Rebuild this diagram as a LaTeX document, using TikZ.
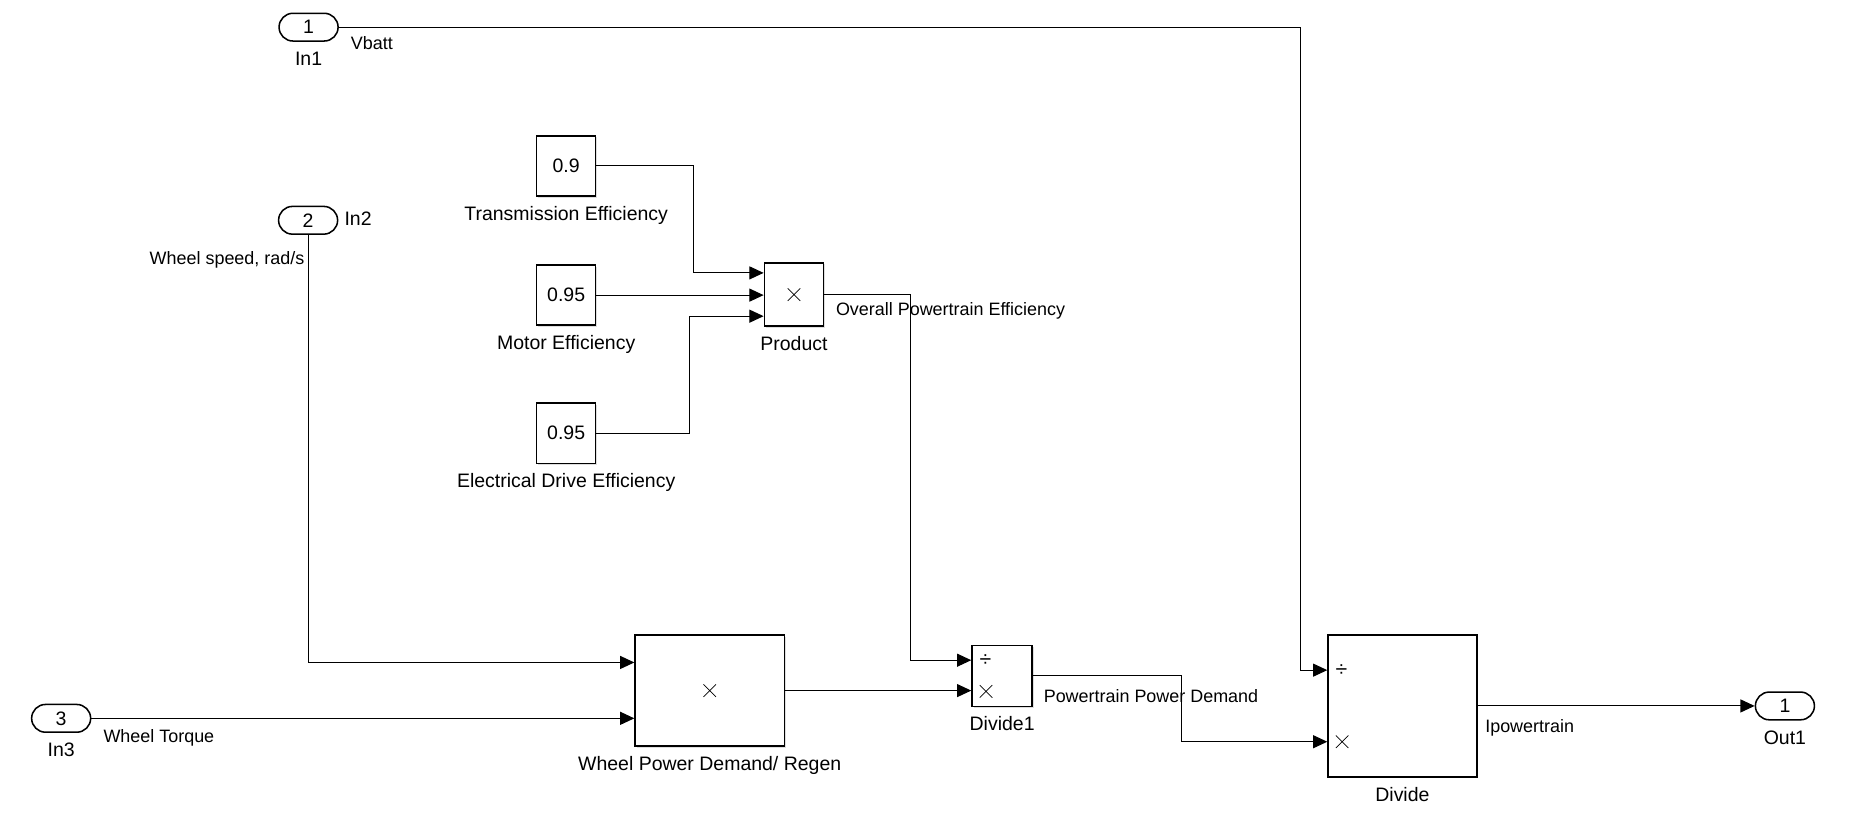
\documentclass[tikz,border=0pt]{standalone}
\usepackage{fontspec}
\setmainfont{Liberation Sans}
\usetikzlibrary{calc,positioning,shapes.misc,arrows.meta,shadows}
\newcommand\slfont{\fontsize{16.5}{19.8}\selectfont}
\newcommand\sigfont{\fontsize{15.2}{18}\selectfont}

\begin{document}
\begin{tikzpicture}
          [x=1pt, y=-1pt,
           block/.style={draw=black,fill=white,line width=1.3pt,inner sep=0pt,
             drop shadow={shadow xshift=1.4pt,shadow yshift=-1.4pt,fill=black!25}},
           const/.style={block,minimum width=50pt,minimum height=51pt},
           port/.style={rounded rectangle,draw=black,fill=white,line width=1.3pt,
             minimum width=50pt,minimum height=23.5pt,inner sep=0pt},
           caption/.style={inner sep=0pt,text height=12pt,text depth=3.5pt},
           signame/.style={caption,anchor=west,font=\sigfont},
           times/.style={cross out,draw=black,line width=0.6pt,minimum size=10pt,inner sep=0pt},
           over/.style={font=\fontsize{18}{20}\selectfont,inner sep=0pt},
           sig/.style={line width=0.9pt},
           node distance=8pt,
           every node/.style={font=\slfont},
           >={Triangle[length=12pt,width=11pt]}
          ]
          \fill[white] (0,0) rectangle (1568,693);
          \useasboundingbox (0,0) rectangle (1568,693);
          % inports
          \node[port] (in1) at (261.4,23) {1};
          \node[caption,below=of in1] (in1lab) {In1};
          \node[port] (in2) at (261,186.6) {2};
          \node[caption,right=5pt of in2] (in2lab) {In2};
          \node[port] (in3) at (51.8,608.5) {3};
          \node[caption,below=of in3] (in3lab) {In3};
          % efficiencies
          \node[const] (trans) at (479.6,140.5) {0.9};
          \node[caption,below=of trans] (translab) {Transmission Efficiency};
          \node[const] (motor) at (479.6,250) {0.95};
          \node[caption,below=of motor] (motorlab) {Motor Efficiency};
          \node[const] (elec) at (479.6,367) {0.95};
          \node[caption,below=of elec] (eleclab) {Electrical Drive Efficiency};
          \node[block,minimum width=50.2pt,minimum height=53.7pt] (prod) at (672.6,249.5) {};
          \node[times] (prodop) at (prod) {};
          \node[caption,below=of prod] (prodlab) {Product};
          % power demand
          \node[block,minimum width=126.4pt,minimum height=94pt] (wpd) at (601.2,585) {};
          \node[times] (wpdop) at (wpd) {};
          \node[caption,below=of wpd] (wpdlab) {Wheel Power Demand/ Regen};
          \node[block,minimum width=51pt,minimum height=51.7pt] (div1) at (848.9,572.5) {};
          \node[caption,below=of div1] (div1lab) {Divide1};
          \node[over] (div1div) at ($(div1.north west)!.25!(div1.south west)+(12,0)$) {÷};
          \node[times] (div1mul) at ($(div1.north west)!.75!(div1.south west)+(12.5,0)$) {};
          \node[block,minimum width=126pt,minimum height=120pt] (div) at (1188,598) {};
          \node[caption,below=of div] (divlab) {Divide};
          \node[over] (divdiv) at ($(div.north west)!.25!(div.south west)+(12,0)$) {÷};
          \node[times] (divmul) at ($(div.north west)!.75!(div.south west)+(12.5,0)$) {};
          \node[port] (out1) at (1512,598) {1};
          \node[caption,below=of out1] (out1lab) {Out1};
          % signal names
          \node[signame] (vbatt) at (297,37.5) {Vbatt};
          \node[signame,anchor=east] (speed) at (258,220) {Wheel speed, rad/s};
          \node[signame] (torque) at (87.5,624.5) {Wheel Torque};
          \node[signame] (eff) at (708,263) {Overall Powertrain Efficiency};
          \node[signame] (demand) at (884,590.5) {Powertrain Power Demand};
          \node[signame] (ipt) at (1258,616.5) {Ipowertrain};
          % lines
          \draw[sig,->] (in1.east) -- ++(814.6,0) |- ($(div.north west)!.25!(div.south west)$);
          \draw[sig,->] (in2.south) |- ($(wpd.north west)!.25!(wpd.south west)$);
          \draw[sig,->] (in3.east) -- (in3.east -| wpd.west);
          \draw[sig,->] (trans.east) -- ++(82,0) |- ($(prod.north west)!1/6!(prod.south west)$);
          \draw[sig,->] (motor.east) -- (motor.east -| prod.west);
          \draw[sig,->] (elec.east) -- ++(79,0) |- ($(prod.north west)!5/6!(prod.south west)$);
          \draw[sig,->] (prod.east) -- ++(73,0) |- ($(div1.north west)!.25!(div1.south west)$);
          \draw[sig,->] (wpd.east) -- (wpd.east -| div1.west);
          \draw[sig,->] (div1.east) -- ++(126,0) |- ($(div.north west)!.75!(div.south west)$);
          \draw[sig,->] (div.east) -- (out1.west);
        \end{tikzpicture}
\end{document}
